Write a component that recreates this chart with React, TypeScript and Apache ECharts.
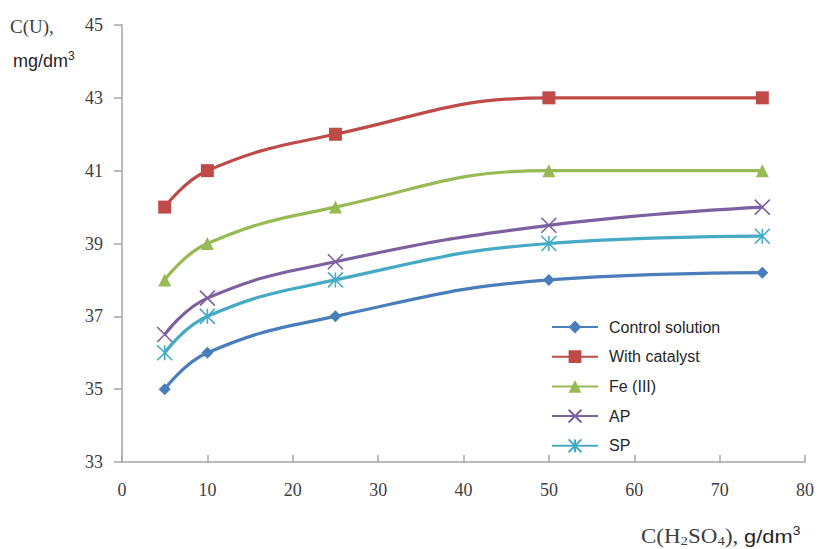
import React, { useEffect, useRef } from "react";
import * as echarts from "echarts";

const xValues = [5, 10, 25, 50, 75];
const seriesNames = ["Control solution", "With catalyst", "Fe (III)", "AP", "SP"];
const controlSolution = [35, 36, 37, 38, 38.2];
const withCatalyst = [40, 41, 42, 43, 43];
const feIII = [38, 39, 40, 41, 41];
const apValues = [36.5, 37.5, 38.5, 39.5, 40];
const spValues = [36, 37, 38, 39, 39.2];

const colors = ["#4a7ebb", "#be4b48", "#98b954", "#7d60a0", "#46aac5"];
const symbols = [
  "diamond",
  "rect",
  "triangle",
  "path://M0,0 L10,10 M10,0 L0,10",
  "path://M0,0 L10,10 M10,0 L0,10 M5,0 L5,10",
];
const symbolSizes = [12, 13, 13, 15, 15];

export default function App() {
  const ref = useRef<HTMLDivElement>(null);
  useEffect(() => {
    if (!ref.current) return;
    const chart = echarts.init(ref.current, null, { renderer: "svg" });
    const all = [controlSolution, withCatalyst, feIII, apValues, spValues];
    const series = all.map((vals, i) => {
      const isStroke = i >= 3;
      return {
        name: seriesNames[i],
        type: "line",
        smooth: 0.45,
        data: xValues.map((x, j) => [x, vals[j]]),
        symbol: symbols[i],
        symbolSize: symbolSizes[i],
        showAllSymbol: true,
        lineStyle: { color: colors[i], width: 3.2 },
        itemStyle: isStroke
          ? { color: colors[i], borderColor: colors[i], borderWidth: 1.6 }
          : { color: colors[i], borderWidth: 0 },
        z: 2 + i,
      };
    });
    chart.setOption({
      animation: false,
      backgroundColor: "#ffffff",
      grid: { left: 122, right: 13, top: 25, bottom: 87, containLabel: false },
      xAxis: {
        type: "value",
        min: 0,
        max: 80,
        interval: 10,
        axisLine: { show: true, lineStyle: { color: "#a6a6a6", width: 1.5 } },
        axisTick: { show: true, inside: true, length: 7, lineStyle: { color: "#a6a6a6", width: 1.5 } },
        axisLabel: {
          color: "#404040",
          fontFamily: "Liberation Serif",
          fontSize: 18,
          margin: 19,
        },
        splitLine: { show: false },
      },
      yAxis: {
        type: "value",
        min: 33,
        max: 45,
        interval: 2,
        axisLine: { show: true, lineStyle: { color: "#a6a6a6", width: 1.5 } },
        axisTick: { show: true, inside: false, length: 8, lineStyle: { color: "#a6a6a6", width: 1.5 } },
        axisLabel: {
          color: "#404040",
          fontFamily: "Liberation Serif",
          fontSize: 18,
          margin: 19,
        },
        splitLine: { show: false },
      },
      legend: {
        data: seriesNames,
        orient: "vertical",
        left: 546,
        top: 314,
        itemWidth: 46,
        itemHeight: 16,
        itemGap: 13.7,
        textStyle: {
          fontFamily: "Liberation Sans",
          fontSize: 16,
          lineHeight: 16,
          color: "#262626",
          padding: [0, 0, 0, 6],
        },
      },
      graphic: [
        {
          type: "text",
          x: 10,
          y: 17,
          style: {
            text: "C(U),",
            font: "19px 'Liberation Serif'",
            fill: "#404040",
            verticalAlign: "top",
          },
        },
        {
          type: "text",
          x: 13,
          y: 50,
          style: {
            text: "{a|mg/dm}{p|3}",
            verticalAlign: "top",
            rich: {
              a: { fontFamily: "Liberation Sans", fontSize: 18, fill: "#262626", lineHeight: 20, verticalAlign: "bottom" },
              p: { fontFamily: "Liberation Sans", fontSize: 12, fill: "#262626", lineHeight: 20, verticalAlign: "top" },
            },
          },
        },
        {
          type: "text",
          x: 641,
          y: 525,
          scaleX: 1.15,
          style: {
            text: "{a|C(H}{s|2}{a|SO}{s|4}{a|), }{b|g/dm}{p|3}",
            verticalAlign: "top",
            rich: {
              a: { fontFamily: "Liberation Serif", fontSize: 20, fill: "#404040", lineHeight: 22, verticalAlign: "middle" },
              s: { fontFamily: "Liberation Serif", fontSize: 13, fill: "#404040", lineHeight: 22, verticalAlign: "bottom" },
              b: { fontFamily: "Liberation Sans", fontSize: 19, fill: "#262626", lineHeight: 22, verticalAlign: "middle" },
              p: { fontFamily: "Liberation Sans", fontSize: 12, fill: "#262626", lineHeight: 22, verticalAlign: "top" },
            },
          },
        },
      ],
      series,
    });
    return () => chart.dispose();
  }, []);
  return (
    <div
      ref={ref}
      style={{ position: "fixed", left: 0, top: 0, width: 818, height: 549 }}
    />
  );
}
